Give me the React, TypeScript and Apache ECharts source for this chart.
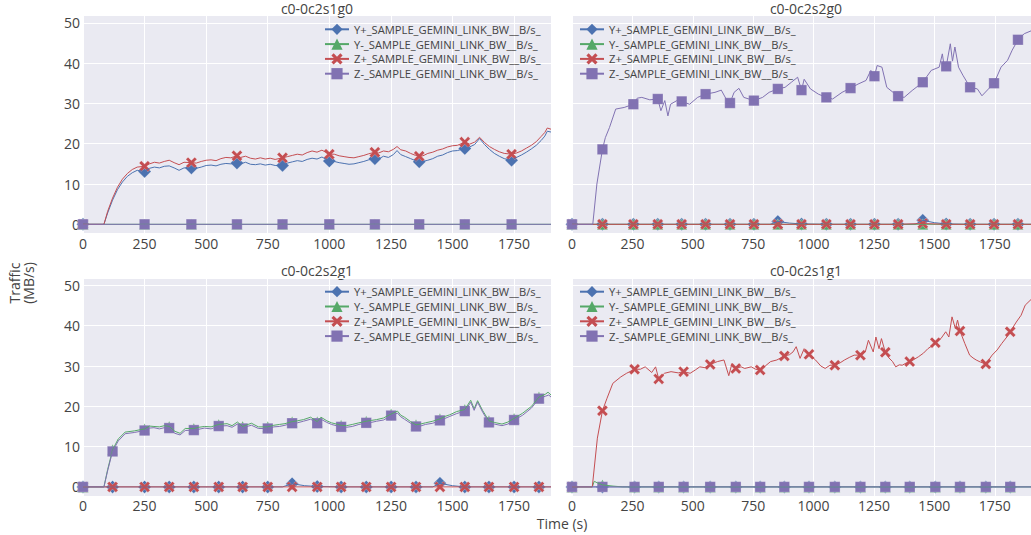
import React, { useEffect, useRef } from "react";
import * as echarts from "echarts";

// ---------- text ----------
const SERIES_NAMES = [
  "Y+_SAMPLE_GEMINI_LINK_BW__B/s_",
  "Y-_SAMPLE_GEMINI_LINK_BW__B/s_",
  "Z+_SAMPLE_GEMINI_LINK_BW__B/s_",
  "Z-_SAMPLE_GEMINI_LINK_BW__B/s_",
];
const PANEL_TITLES = ["c0-0c2s1g0", "c0-0c2s2g0", "c0-0c2s2g1", "c0-0c2s1g1"];
const X_TITLE = "Time (s)";
const Y_TITLE = "Traffic\n(MB/s)";

// ---------- axes ----------
const X_MIN = 0;
const X_MAX = 1900;
const X_INTERVAL = 250;
const Y_MIN = -2.23;
const Y_MAX = 51.77;

// ---------- marker times (s) per panel ----------
const M1 = [0, 250, 440, 625, 810, 1000, 1185, 1365, 1550, 1740];
const M2 = [0, 126, 254, 355, 454, 553, 654, 753, 852, 950, 1053, 1153, 1252, 1350, 1452, 1549, 1648, 1747, 1846];
const M3 = [0, 120, 250, 350, 450, 551, 648, 750, 849, 951, 1048, 1150, 1251, 1352, 1449, 1550, 1648, 1750, 1851];
const M4 = [0, 126, 259, 359, 462, 572, 678, 779, 879, 981, 1088, 1194, 1297, 1398, 1504, 1606, 1713, 1814];

// ---------- panel 1: c0-0c2s1g0 ----------
const P1_YP = [[0,0],[85,0],[100,2.8],[120,6.0],[140,8.6],[160,10.5],[180,11.9],[200,12.8],[220,13.4],[250,13.1],[270,13.9],[290,14.2],[310,14.0],[330,14.4],[350,14.5],[370,14.0],[390,13.4],[410,14.0],[440,14.0],[460,13.9],[480,14.2],[500,14.6],[520,14.7],[540,14.5],[560,14.9],[580,15.1],[600,15.0],[625,15.2],[640,15.0],[660,15.4],[680,14.9],[700,14.8],[720,15.0],[740,14.7],[760,14.9],[780,14.6],[810,14.6],[830,15.2],[850,15.5],[870,15.8],[890,15.6],[910,16.1],[930,16.4],[950,16.2],[970,16.7],[1000,15.7],[1020,15.6],[1040,15.3],[1060,15.1],[1080,14.9],[1100,15.0],[1120,15.3],[1140,15.6],[1160,16.0],[1185,16.3],[1200,16.2],[1220,16.9],[1240,16.6],[1260,17.3],[1275,18.3],[1290,17.3],[1310,16.8],[1330,16.3],[1350,15.8],[1365,15.5],[1380,15.6],[1400,15.9],[1420,16.3],[1440,16.9],[1460,17.2],[1480,17.8],[1500,18.2],[1520,18.3],[1550,18.8],[1570,19.2],[1590,19.8],[1610,21.3],[1630,19.8],[1650,18.6],[1670,17.6],[1690,16.9],[1710,16.3],[1740,15.9],[1760,16.6],[1780,17.2],[1800,17.9],[1820,18.7],[1840,19.6],[1860,20.8],[1875,21.9],[1885,23.1],[1900,22.9]];
const P1_YM = [[0,0],[250,0],[440,0],[625,0],[810,0],[1000,0],[1185,0],[1365,0],[1550,0],[1740,0],[1900,0]];
const P1_ZP = [[0,0],[85,0],[100,3.2],[120,6.5],[140,9.2],[160,11.2],[180,12.6],[200,13.6],[220,14.2],[250,14.4],[270,15.0],[290,15.4],[310,15.2],[330,15.6],[350,15.9],[370,15.3],[390,14.8],[410,15.4],[440,15.3],[460,15.2],[480,15.6],[500,15.9],[520,16.0],[540,15.8],[560,16.3],[580,16.6],[600,16.5],[625,17.0],[640,16.6],[660,16.9],[680,16.4],[700,16.2],[720,16.5],[740,16.2],[760,16.4],[780,16.1],[810,16.5],[830,16.8],[850,17.1],[870,17.4],[890,17.2],[910,17.8],[930,18.2],[950,17.9],[970,18.4],[1000,17.4],[1020,17.4],[1040,17.0],[1060,16.8],[1080,16.6],[1100,16.5],[1120,16.8],[1140,17.1],[1160,17.5],[1185,17.9],[1200,17.7],[1220,18.2],[1240,18.0],[1260,18.6],[1275,19.3],[1290,18.5],[1310,18.2],[1330,17.6],[1350,17.1],[1365,16.9],[1380,17.0],[1400,17.6],[1420,17.9],[1440,18.4],[1460,18.7],[1480,19.2],[1500,19.5],[1520,19.6],[1550,20.4],[1570,19.9],[1590,20.4],[1610,21.6],[1630,20.3],[1650,19.3],[1670,18.6],[1690,18.0],[1710,17.6],[1740,17.4],[1760,17.7],[1780,18.2],[1800,18.9],[1820,19.6],[1840,20.5],[1860,21.8],[1875,22.8],[1885,23.9],[1900,23.6]];
const P1_ZM = [[0,0],[250,0],[440,0],[625,0],[810,0],[1000,0],[1185,0],[1365,0],[1550,0],[1740,0],[1900,0]];

// ---------- panel 2: c0-0c2s2g0 ----------
const P2_YP = [[0,0],[126,0],[254,0],[355,0],[454,0],[553,0],[654,0],[753,0],[820,0],[852,0.7],[900,0.3],[950,0.1],[1053,0],[1153,0],[1252,0],[1350,0],[1420,0],[1452,1.0],[1500,0.4],[1549,0.1],[1648,0],[1747,0],[1846,0],[1900,0]];
const P2_YM = [[0,0],[126,0],[254,0],[355,0],[454,0],[553,0],[654,0],[753,0],[852,0],[950,0],[1053,0],[1153,0],[1252,0],[1350,0],[1452,0],[1549,0],[1648,0],[1747,0],[1846,0],[1900,0]];
const P2_ZP = [[0,0],[126,0],[254,0],[355,0],[454,0],[553,0],[654,0],[753,0],[852,0],[950,0],[1053,0],[1153,0],[1252,0],[1350,0],[1452,0.2],[1549,0],[1648,0],[1747,0],[1846,0],[1900,0]];
const P2_ZM = [[0,0],[86,0],[103,10],[126,18.6],[138,21.5],[155,24],[181,28.6],[216,29],[254,29.8],[270,31.3],[289,31.5],[322,30.9],[355,31.1],[368,28.2],[384,30.7],[397,26.9],[408,29.8],[434,30.7],[454,30.5],[487,29.8],[520,31.5],[553,32.3],[592,32.75],[618,33.3],[638,31.1],[654,30.1],[671,32.75],[691,33.75],[711,31.5],[753,30.7],[789,31.5],[816,32.75],[852,33.6],[882,34],[908,35.25],[934,36.5],[950,33.3],[961,36],[987,33.6],[1020,32.3],[1053,31.5],[1079,31.1],[1118,32.75],[1153,33.8],[1184,34.8],[1217,35.7],[1237,38.2],[1252,36.75],[1263,39.4],[1283,39],[1303,34],[1329,32.75],[1350,31.8],[1375,31.5],[1408,33.2],[1452,35.25],[1487,38.2],[1520,39],[1533,42.3],[1540,39.5],[1549,39.2],[1566,44.8],[1575,40.5],[1585,44],[1600,39],[1618,37],[1648,34],[1678,33.6],[1697,31.9],[1724,33.6],[1747,35],[1776,39],[1803,40.7],[1822,43.2],[1846,45.8],[1872,47.3],[1900,48]];

// ---------- panel 3: c0-0c2s2g1 ----------
const P3_YP = [[0,0],[120,0],[250,0],[350,0],[450,0],[551,0],[648,0],[750,0],[810,0],[849,0.8],[900,0.3],[951,0.1],[1048,0],[1150,0],[1251,0],[1352,0],[1420,0],[1449,0.9],[1500,0.3],[1550,0],[1648,0],[1750,0],[1851,0],[1900,0]];
const P3_YM = [[0,0],[85,0],[100,4.3],[120,9.2],[143,11.9],[171,13.6],[208,13.9],[250,14.4],[270,15.1],[288,15.0],[310,14.9],[331,15.2],[350,15.0],[373,13.8],[394,13.3],[415,14.5],[450,14.5],[470,14.8],[493,15.0],[520,14.9],[551,15.5],[585,15.7],[605,15.2],[627,16.1],[648,15.0],[665,15.4],[684,15.8],[712,14.9],[750,14.9],[775,15.3],[797,15.5],[820,15.7],[849,16.2],[870,16.4],[895,16.7],[924,17.3],[951,16.2],[966,17.3],[990,16.4],[1009,15.9],[1048,15.3],[1070,15.2],[1093,15.5],[1120,15.9],[1150,16.3],[1170,16.5],[1192,16.7],[1220,17.1],[1251,18.1],[1277,18.8],[1290,17.8],[1305,17.3],[1330,16.2],[1352,15.4],[1370,15.6],[1390,15.9],[1420,16.3],[1449,16.9],[1470,17.5],[1489,17.9],[1517,18.7],[1550,19.2],[1574,21.5],[1588,19.4],[1602,21.4],[1623,18.9],[1648,16.4],[1670,16.0],[1701,15.6],[1725,16.1],[1750,17.0],[1785,18.3],[1821,20.0],[1851,22.3],[1877,23.0],[1888,23.5],[1900,22.8]];
const P3_ZP = [[0,0],[120,0],[250,0],[350,0],[450,0],[551,0],[648,0],[750,0],[849,0],[951,0],[1048,0],[1150,0],[1251,0],[1352,0],[1449,0],[1550,0],[1648,0],[1750,0],[1851,0],[1900,0]];
const P3_ZM = [[0,0],[85,0],[100,4],[120,8.8],[143,11.4],[171,13.2],[208,13.5],[250,14.0],[270,14.6],[288,14.7],[310,14.4],[331,14.7],[350,14.6],[373,13.3],[394,12.9],[415,14.0],[450,14.1],[470,14.3],[493,14.6],[520,14.4],[551,15.1],[585,15.2],[605,14.8],[627,15.6],[648,14.5],[665,15.0],[684,15.3],[712,14.5],[750,14.5],[775,14.9],[797,15.0],[820,15.3],[849,15.8],[870,15.9],[895,16.3],[924,16.8],[951,15.8],[966,16.8],[990,16.0],[1009,15.5],[1048,14.9],[1070,14.8],[1093,15.0],[1120,15.5],[1150,15.9],[1170,16.0],[1192,16.3],[1220,16.6],[1251,17.7],[1277,18.3],[1290,17.4],[1305,16.8],[1330,15.8],[1352,15.0],[1370,15.1],[1390,15.5],[1420,15.8],[1449,16.5],[1470,17.0],[1489,17.5],[1517,18.2],[1550,18.8],[1574,21.0],[1588,19.0],[1602,21.0],[1623,18.5],[1648,16.0],[1670,15.6],[1701,15.2],[1725,15.6],[1750,16.6],[1785,17.8],[1821,19.6],[1851,21.9],[1877,22.5],[1891,22.8],[1900,22.3]];

// ---------- panel 4: c0-0c2s1g1 ----------
const P4_YP = [[0,0],[126,0],[259,0],[359,0],[462,0],[572,0],[678,0],[779,0],[879,0],[981,0],[1088,0],[1194,0],[1297,0],[1398,0],[1504,0],[1606,0],[1713,0],[1814,0],[1900,0]];
const P4_YM = [[0,0],[84,0],[92,1.4],[105,1.0],[126,0.5],[170,0.2],[210,0],[259,0],[359,0],[462,0],[572,0],[678,0],[779,0],[879,0],[981,0],[1088,0],[1194,0],[1297,0],[1398,0],[1504,0],[1606,0],[1713,0],[1814,0],[1900,0]];
const P4_ZP = [[0,0],[84,0],[105,12.1],[126,18.9],[145,22],[169,25.7],[202,27.3],[226,28.2],[259,29.2],[283,29.2],[303,29.8],[330,28.4],[346,29.8],[359,26.8],[383,28.2],[410,28.6],[440,28.3],[462,28.6],[489,28.2],[510,29.0],[529,29.8],[550,29.6],[572,30.4],[602,31.1],[629,31.5],[649,27.6],[662,30.6],[678,29.4],[700,29.8],[715,29.4],[742,29.8],[760,29.2],[779,29.0],[800,30.0],[822,31.1],[848,31.5],[879,32.5],[900,32.8],[915,33.5],[928,34.8],[944,31.9],[961,34.3],[981,32.9],[1008,31.5],[1030,30.0],[1048,29.4],[1068,30.2],[1088,30.2],[1110,30.8],[1128,31.5],[1150,32.2],[1168,32.7],[1194,32.7],[1214,33.5],[1227,36.4],[1247,33.5],[1258,37.2],[1271,34.3],[1281,36.8],[1297,33.4],[1312,32.0],[1327,31.1],[1340,29.8],[1355,30.3],[1367,30.2],[1385,30.8],[1398,31.1],[1415,31.6],[1434,32.3],[1455,33.2],[1473,34.3],[1490,35.0],[1504,35.8],[1527,36.8],[1547,38.5],[1560,37.2],[1573,42.2],[1587,39.3],[1596,41.4],[1606,38.7],[1626,35.6],[1646,32.7],[1660,32.0],[1673,31.5],[1690,31.0],[1713,30.5],[1739,32.7],[1760,34.0],[1779,35.6],[1800,37.2],[1814,38.5],[1839,40.9],[1859,42.6],[1876,45.1],[1900,46.5]];
const P4_ZM = [[0,0],[126,0],[259,0],[359,0],[462,0],[572,0],[678,0],[779,0],[879,0],[981,0],[1088,0],[1194,0],[1297,0],[1398,0],[1504,0],[1606,0],[1713,0],[1814,0],[1900,0]];

const PANEL_DATA = [
  [P1_YP, P1_YM, P1_ZP, P1_ZM],
  [P2_YP, P2_YM, P2_ZP, P2_ZM],
  [P3_YP, P3_YM, P3_ZP, P3_ZM],
  [P4_YP, P4_YM, P4_ZP, P4_ZM],
];
const PANEL_MARKS = [M1, M2, M3, M4];

// ---------- styles / layout ----------
const COLORS = ["#4C72B0", "#55A868", "#C44E52", "#8172B2"];
const X_PATH = "path://M2,0L5,3L8,0L10,2L7,5L10,8L8,10L5,7L2,10L0,8L3,5L0,2Z";
const SYMBOLS = ["diamond", "triangle", X_PATH, "rect"];
const SYMBOL_SIZES = [13, 11, 11, 10.5];
const FONT = "Open Sans";
const TEXT_COLOR = "#444";
const BG = "#EAEAF2";
const GRID_LEFT = [83, 572, 83, 572];
const GRID_TOP = [15.7, 15.7, 278.3, 278.3];
const GRID_W = 468;
const GRID_H = 217.6;
const LEGEND_LEFT = [324, 579, 324, 579];
const LEGEND_TOP = [22.3, 22.3, 284.7, 284.7];

function buildOption() {
  const grid: any[] = [];
  const xAxis: any[] = [];
  const yAxis: any[] = [];
  const series: any[] = [];
  const legend: any[] = [];
  const graphic: any[] = [];

  for (let p = 0; p < 4; p++) {
    grid.push({
      left: GRID_LEFT[p],
      top: GRID_TOP[p],
      width: GRID_W,
      height: GRID_H,
      show: true,
      backgroundColor: BG,
      borderWidth: 0,
      containLabel: false,
    });
    xAxis.push({
      gridIndex: p,
      type: "value",
      min: X_MIN,
      max: X_MAX,
      interval: X_INTERVAL,
      axisLine: { show: false },
      axisTick: { show: false },
      splitLine: { show: true, lineStyle: { color: "#ffffff", width: 1 } },
      axisLabel: {
        showMaxLabel: false,
        margin: 3,
        fontFamily: FONT,
        fontSize: 14,
        color: TEXT_COLOR,
        formatter: (v: number) => String(Math.round(v)),
      },
    });
    yAxis.push({
      gridIndex: p,
      type: "value",
      min: Y_MIN,
      max: Y_MAX,
      splitNumber: 5,
      axisLine: { show: false },
      axisTick: { show: false },
      splitLine: { show: true, lineStyle: { color: "#ffffff", width: 1 } },
      axisLabel: {
        show: p % 2 === 0,
        showMinLabel: false,
        showMaxLabel: false,
        margin: 3,
        fontFamily: FONT,
        fontSize: 14,
        color: TEXT_COLOR,
        formatter: (v: number) => String(Math.round(v)),
      },
    });

    for (let c = 0; c < 4; c++) {
      const pairs = PANEL_DATA[p][c];
      const marks = pairs.filter((d) => PANEL_MARKS[p].includes(d[0]));
      series.push({
        name: SERIES_NAMES[c],
        type: "line",
        xAxisIndex: p,
        yAxisIndex: p,
        data: pairs,
        showSymbol: false,
        symbol: SYMBOLS[c],
        symbolSize: SYMBOL_SIZES[c],
        color: COLORS[c],
        lineStyle: { width: 1, color: COLORS[c] },
        itemStyle: { color: COLORS[c] },
        emphasis: { disabled: true },
        silent: true,
      });
      series.push({
        name: SERIES_NAMES[c],
        type: "scatter",
        xAxisIndex: p,
        yAxisIndex: p,
        data: marks,
        symbol: SYMBOLS[c],
        symbolSize: SYMBOL_SIZES[c],
        itemStyle: {
          color: COLORS[c],
          borderColor: "rgba(255,255,255,0.35)",
          borderWidth: 0.7,
          opacity: 1,
        },
        emphasis: { disabled: true },
        silent: true,
      });
    }

    legend.push({
      orient: "vertical",
      left: LEGEND_LEFT[p],
      top: LEGEND_TOP[p],
      itemWidth: 24,
      itemHeight: 14,
      itemGap: 0.8,
      padding: 0,
      data: SERIES_NAMES,
      selectedMode: false,
      lineStyle: { width: 2 },
      textStyle: {
        fontFamily: FONT,
        fontSize: 11.2,
        color: TEXT_COLOR,
        lineHeight: 14,
      },
    });

    graphic.push({
      type: "text",
      x: GRID_LEFT[p] + GRID_W / 2,
      y: GRID_TOP[p] - 7.6,
      style: {
        text: PANEL_TITLES[p],
        fontFamily: FONT,
        fontSize: 14,
        fill: TEXT_COLOR,
        align: "center",
        verticalAlign: "middle",
      },
    });
  }

  graphic.push({
    type: "text",
    x: 562,
    y: 523,
    style: {
      text: X_TITLE,
      fontFamily: FONT,
      fontSize: 14,
      fill: TEXT_COLOR,
      align: "center",
      verticalAlign: "middle",
    },
  });
  graphic.push({
    type: "text",
    x: 21.5,
    y: 283,
    rotation: Math.PI / 2,
    style: {
      text: Y_TITLE,
      fontFamily: FONT,
      fontSize: 14,
      lineHeight: 13.5,
      fill: TEXT_COLOR,
      align: "center",
      verticalAlign: "middle",
    },
  });

  return {
    animation: false,
    backgroundColor: "#ffffff",
    grid,
    xAxis,
    yAxis,
    legend,
    series,
    graphic,
  };
}

export default function App() {
  const ref = useRef<HTMLDivElement>(null);
  useEffect(() => {
    if (!ref.current) return;
    const chart = echarts.init(ref.current, undefined, { renderer: "svg" });
    chart.setOption(buildOption() as any);
    return () => chart.dispose();
  }, []);
  return (
    <div
      ref={ref}
      style={{ position: "absolute", left: 0, top: 0, width: 1031, height: 535, background: "#fff" }}
    />
  );
}
